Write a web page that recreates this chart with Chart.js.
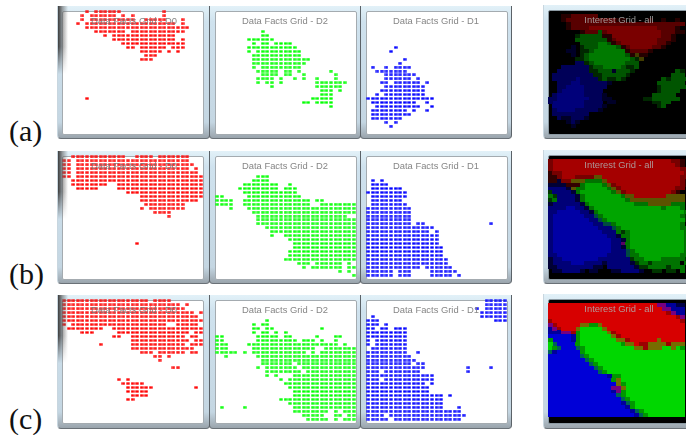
<!DOCTYPE html>
<html><head><meta charset="utf-8">
<script src="https://cdn.jsdelivr.net/npm/chart.js@4"></script>
<style>
html,body{margin:0;padding:0;background:#fff;width:686px;height:435px;overflow:hidden}
#stage{position:relative;width:686px;height:435px;overflow:hidden}
.win,.inner,.shadow,.ttl,.lab,canvas{position:absolute}
.win{background:linear-gradient(#e2f1f8,#cfe2ee 12%,#c4d6e2 88%,#9aa4ac);border-radius:0 0 4px 4px;border-left:1px solid #5b6268;border-right:1px solid #5b6268;border-bottom:1px solid #6a7177;box-sizing:border-box}
.win.soft{border-left:1px solid #c8d6df}
.inner{background:#fff;border:1px solid #a4abb0;border-radius:2px;box-sizing:border-box}
.inner.dark{background:#000;border:1px solid #8c9aa3}
.shadow{background:linear-gradient(90deg,#3c3c3c,rgba(90,90,90,.55) 45%,rgba(255,255,255,0));-webkit-mask-image:linear-gradient(#000 60%,transparent);mask-image:linear-gradient(#000 60%,transparent)}
.ttl{font:9.4px "Liberation Sans",sans-serif;color:rgba(120,120,120,.9);white-space:nowrap;transform:translate(-50%,-50%);filter:blur(.3px)}
.lab{font:30px "Liberation Serif",serif;color:#111;white-space:nowrap}
</style></head><body><div id="stage"></div>
<script>
const rowLabels=["(a)","(b)","(c)"];
const gridTitles=["Data Facts Grid - D0","Data Facts Grid - D2","Data Facts Grid - D1","Interest Grid - all"];

const aD0=["5 7-12 22","4 6-11 13 15 22","4 6-15 18-22 26","3 5-24 26","5-27","7-13 15-26","9 11-24","11-24 26","13-26","14 15 17-22 24-26","17-21 23 25","18-20","17-19","","","","","","","","","","5"];
const aD2=["","","","","","10","10 11","7-12","8 10 11 13-16","7-17","7 9-18","8-18","8-20","8-19","8 10-18","9-13 15 16 18 25","10-13 15 16 19 26","9-12 14 17 19 22 26","9 11 12 14 22-28","12 22-27","23-25 27","23-25","21-25","19 20 22-25","25"];
const aD1=["","","","","","","","","","6","5","","8","7","1 4 6-9","2-8","4-10","4-9 11","3 4 6-11 13","4-12","3-12","2 4-12","0-14","1-10 13","2-11 14","1-8 10 13","1-9","1-7","4 6","5"];

const bD0=["2-13 16-19 21-27","0 1 3-27","0 1 3-28","0 1 3-27 29","0 1 3-29","0 1 3-30","2-30","2-9 12-30","3-7 12-30","14-30","17-30","17-29","18-26","17 19-26","20-23","23","","","","","","","16"];
const bD2=["","","","","","9-11","8-11","6-13 16","5-13 15-17","6-17","0 1 7-18","0-3 6-20 22 23","0-3 6-20 23-30","3 7-30","8-30","9-28","9-30","9-30","11-30","12-30","12 15-30","16-30","17-30","17-30","16-30","16-30","15-30","18-20 22-27 29","19 21-27 29 30","27 29","30"];
const bD1=["","","","","","","1 3","1-4","1-7","0-8","1-8","1-7","1-8","0-9","0-9","0-9","0-9","0-9 11 12 27","0-14","0-13 15","0-15","0-15","0-15","0-16","0-16","0-16","0-17","0-17","0-11 13-18","0-5 7-9 14-19","0-5 7-9 14-18 20"];

const cD0=["0-18 20-23","0-25 27","0-26","0-28 30","0-29","0-30","0 2-22 25-29","1-8 11-30","4-6 12-27 29 30","11 12 15-26 28 29","15-27 29 30","8 15-26 28-30","15-28","17-19 21-26 28 29","20 21 23","21","","24 25","","","12 14","13-17","14-19 29","14-18","15-18","14 15"];
const cD2=["","","","","","11","8 10 11","8 9 11 12 23","8 10 11 13 15","0 1 9-13 15 16 22 26 27","0 1 9-17 19-21 23 26","0-2 7-26 28","0-2 8-21 24-30","0-4 6 8-19 21 23-30","2 9-30","10-30","10-16 18-30","9 11-17 19-30","11-18 20-30","11 13 17-30","14 16-30","15-30","16-30","17-30","17-30","14-30","16-30","1 6 17-30","17-24 26 28-30","19-23 26 27 29 30","20-24 26 28-30"];
const cD1=["26-30","26-30","24 26-30","25-30","1 25-30","0-2 28-30","0-2 4","0 1 3 4 6-8","0-8","0-8","0 2-8","0 2-8","1-8","0-8 11","0-9","0-10","0-9 11 12","0-12 22 27","0-2 4-11 22","0-14","0-2 4-14","0-12 14","0-13","0-13","0-16 18","0-16","0-16","0-16 20","0-20","0-3 5-21","0-4 6-20"];

const aAll=["","...eerrrrrr","...errrrrrrrrrree.....e..e..e","....errrrrrrrrrrrrrrrrrrrrrrrr","....errrrRRRRRRRRRRRRRRRrrrre",".......errrgrRRRRRRRRRRRRrrree","......hgggggeeRRRRRRRRRRRrre","......gggggggerRRRRRRRRRrrre",".......ggggGGgerRRRRRRRRrre",".....d.hgggGGGGgerRRRRRrre","....dd.hhgGGGGGGGerrrre",".....d.hgGGGGGGGGgeoee","......hhgGGGGGGGGGgho","......bbhgGGGGGGGggg","...bbbbbbhggGGGGghhg","..bbbbbbbhhgggdgggh.........gh",".bbbbbbbbbhhgggggh.........ggg",".bbbbbBbbbbhghhgh........ghgggg","..bbbBBbbbbbbd..........gggggg","..bbBBBBbbbbb...........hgggggg","..bBBBBBbbbb............hgggg",".bBBBBBBbbbbd..........ggggg","bbBBBBBBBbbbdd.......hhgggggg","bBBBBBBBbbbb.dd........hhgg",".BBBBBBBbbbbd...........hg",".bBBBBbbbbbd",".bbbbbbbb","..bddbbbd","....dbd",".....d",""];
const bAll=["","rRRRRRRRRRRRRRRRRRRRRRRRRRRrre","rRRRRRRRRRRRRRRRRRRRRRRRRRRRre","rRRRRRRRRRRRRRRRRRRRRRRRRRRRRrr","errRRRRRRRRRRRRRRRRRRRRRRRRRRRr","eerRRRrrrrooRRRRRRRRRRRRRRRRRrr","eedrroooggggoRRRRRRRRRRRRRRRRre","ddddeeegGGGGgorRRRRRRRRRRRRRRre","bbbbdoggGGGGGgorRRRRRRRRRRRRrr","hbbbbdgGGGGGGGgorRRRRRRRRRRre","ghbbbbdgGGGGGGGGgooRRRRRRRoooo","hgbbbbdgGGGGGGGGGgoooooooooooo","dbbbbbbdgGGGGGGGGGGgggoooooggg","bbbbBBbbdgGGGGGGGGGGGGGGGgGGGg","bbBBBBBbbdgGGGGGGGGGGGGGGGGGGGg","bBBBBBBBbbtgGGGGGGGGGGGGGGGGGgh","bBBBBBBBBbbtgGGGGGGGGGGGGGGGGGh","bBBBBBBBBBbbttgGGGGGGGGGGGGGGg","bBBBBBBBBBBbbbtgGGGGGGGGGGGGGgg","bBBBBBBBBBBBbbbghgGGGGGGGGGGGGg","bBBBBBBBBBBBBbbdggGGGGGGGGGGGGg","bBBBBBBBBBBBBBbbdgGGGGGGGGGGGGg","bBBBBBBBBBBBBBbbmgGGGGGGGGGGGGg","bBBBBBBBBBBBBBbbdgGGGGGGGGGGGGg","bBBBBBBBBBBBBBbbbtgGGGGGGGGGGGg","bbBBBBBBBBBBBbbbbtggGGGGGGGGGgg","dbbBBBBBBBBbbbbbbbhggGGGGgggggh","dbbbbBBBbbbbdbbbbbdhgghgggggg.g","ddbbbbbbbbdd.bbbbbbdhhgggghggg",".ddbbbbd.dd...ddbbbbd..hh.hh.g",""];
const cAll=["","RRRRRRRRRRRRRRRRRRRRRRRRmmbbdd","RRRRRRRRRRRRRRRRRRRRRRRRRmmbbb","RRRRRRRRRRRRRRRRRRRRRRRRRRrmbb","RRRRRRRRRRRRRRRRRRRRRRRRRRRRrm","rRRRRRRRRRRRRRRRRRRRRRRRRRRRRr","mrRRRRRooggoRRRRRRRRRRRRRRRRRR","bmrRRRoGGGGGoRRRRRRRRRRRRRRRRR","bbbmmrgGGGGGGorRRRRRRRRRRRRRRR","BBBBBbgGGGGGGGorRRRRRRRRRRRRRR","gBBBBbgGGGGGGGGoorRRRRRRoRRRRR","GtBBBBgGGGGGGGGGgooRrroooorooo","GgtBBBtgGGGGGGGGGGGooroooGGoGg","tbBBBBBgGGGGGGGGGGGGGGGGGGGGGG","BBBBBBBtgGGGGGGGGGGGGGGGGGGGGG","BBBBBBBBtgGGGGGGGGGGGGGGGGGGGG","BBBBBBBBBtgGGGGGGGGGGGGGGGGGGG","BBBBBBBBBBtgGGGGGGGGGGGGGGGGGG","BBBBBBBBBBBtgGGGGGGGGGGGGGGGGG","BBBBBBBBBBBBBbggGGGGGGGGGGGGGG","BBBBBBBBBBBBBBgoGGGGGGGGGGGGGG","BBBBBBBBBBBBBBBogGGGGGGGGGGGGG","BBBBBBBBBBBBBBmmoGGGGGGGGGGGGG","BBBBBBBBBBBBBBbmgGGGGGGGGGGGGG","BBBBBBBBBBBBBBBtgGGGGGGGGGGGGG","BBBBBBBBBBBBBBBBtgGGGGGGGGGGGG","BBBBBBBBBBBBBBBBbtgGGGGGGGGGGG","BBBBBBBBBBBBBBBBBbgGGGGGGGGGGG","BBBBBBBBBBBBBBBBBBbtgGGGGGGGGG","BBBBBBBBBBBBBBBBBBBbtgGGGGGGGG",""];

const markColors=["#ff0000","#00ff00","#0000ff"];
const allPeak=[122,165,215];
const levels={R:[1,0,0],r:[.72,0,0],e:[.3,0,0],G:[0,1,0],g:[0,.7,0],h:[0,.32,0],B:[0,0,1],b:[0,0,.72],d:[0,0,.32],o:[.55,.5,0],m:[.55,0,.6],t:[0,.45,.4]};

const W=141,H=121.5;
const stage=document.getElementById('stage');
function el(cls,st,txt){const d=document.createElement('div');d.className=cls;Object.assign(d.style,st);if(txt)d.textContent=txt;stage.appendChild(d);return d;}
function stamp(w,h,color){const c=document.createElement('canvas');c.width=w;c.height=h;const x=c.getContext('2d');x.fillStyle=color;x.fillRect(0,0,w,h);return c;}
function softStamp(color){const c=document.createElement('canvas');c.width=4;c.height=3;const x=c.getContext('2d');x.fillStyle=color;const ax=[.7,1,1,.7],ay=[.65,1,.65];ax.forEach((a,i)=>ay.forEach((b,j)=>{x.globalAlpha=a*b;x.fillRect(i,j,1,1);}));return c;}
function parseRows(rows){const pts=[];rows.forEach((s,y)=>{s.split(' ').filter(Boolean).forEach(t=>{const p=t.split('-').map(Number);for(let x=p[0];x<=p[p.length-1];x++)pts.push({x,y});});});return pts;}
function draw(canvas,datasets){new Chart(canvas,{type:'scatter',data:{datasets},options:{responsive:false,animation:false,devicePixelRatio:1,layout:{padding:0,autoPadding:false},plugins:{legend:{display:false},tooltip:{enabled:false}},scales:{x:{type:'linear',display:false,min:-.5,max:30.5},y:{type:'linear',display:false,reverse:true,min:-.5,max:30.5}}}});}
function cv(l,t,w,h){const c=document.createElement('canvas');c.width=Math.ceil(w);c.height=Math.ceil(h);c.style.cssText=`left:${l}px;top:${t}px;width:${c.width}px;height:${c.height}px`;stage.appendChild(c);return c;}

const tops=[6,151,295],bots=[139,284,429],gridTop=[10.3,155.3,299.2],titleY=[20,165,309],labelY=[114,257,402];
const panelLeft=[62,214.6,365.7];
const centers=[134,285,436];
const marks=[[aD0,aD2,aD1],[bD0,bD2,bD1],[cD0,cD2,cD1]];
const heat=[aAll,bAll,cAll];

rowLabels.forEach((lab,i)=>{
  el('lab',{left:'9px',top:labelY[i]+'px'},lab);
  el('win soft',{left:'57px',top:tops[i]+'px',width:'153px',height:(bots[i]-tops[i])+'px'});
  el('win',{left:'209px',top:tops[i]+'px',width:'152px',height:(bots[i]-tops[i])+'px'});
  el('win',{left:'360px',top:tops[i]+'px',width:'152px',height:(bots[i]-tops[i])+'px'});
  el('win soft',{left:'543px',top:(tops[i]-1)+'px',width:'160px',height:(bots[i]-tops[i]+1)+'px'});
  [62,214.6,365.7].forEach((l,j)=>{
    el('inner',{left:l+'px',top:(gridTop[i]+.5)+'px',width:'142px',height:'124px'});
    const c=cv(panelLeft[j],gridTop[i],W,H);
    draw(c,[{label:gridTitles[j],data:parseRows(marks[i][j]),pointStyle:softStamp(markColors[j]),pointRadius:2,clip:false}]);
    el('ttl',{left:centers[j]+'px',top:titleY[i]+'px'},gridTitles[j]);
  });
  el('shadow',{left:'58px',top:tops[i]+'px',width:'10px',height:'68px'});
  el('inner dark',{left:'548px',top:(gridTop[i]-.5)+'px',width:'150px',height:'125px'});
  const sets={};
  heat[i].forEach((row,y)=>{[...row].forEach((ch,x)=>{if(levels[ch])(sets[ch]=sets[ch]||[]).push({x,y});});});
  const hc=cv(547.7,gridTop[i],W,H);
  hc.style.filter='blur(.7px)';
  const ds=Object.keys(sets).map(k=>{const v=levels[k].map(f=>Math.round(f*allPeak[i]));return {label:k,data:sets[k],pointStyle:stamp(5,4,`rgb(${v})`),pointRadius:3,clip:false};});
  draw(hc,ds);
  el('ttl',{left:'619px',top:(titleY[i]-1.5)+'px',color:'rgba(175,175,175,.85)'},gridTitles[3]);
});
</script></body></html>
